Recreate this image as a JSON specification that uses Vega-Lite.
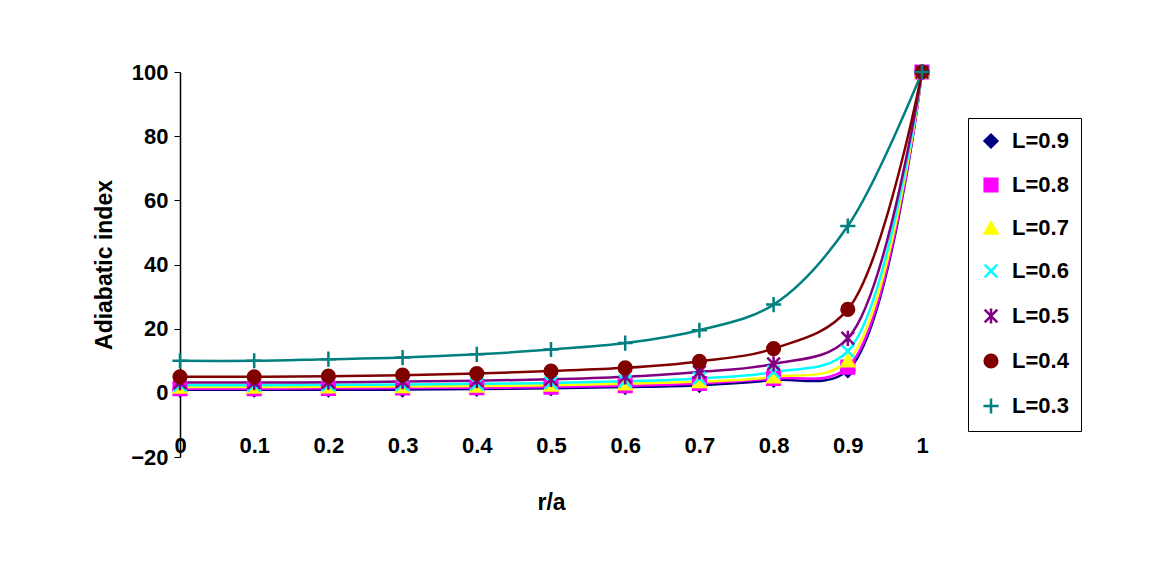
{
"$schema":"https://vega.github.io/schema/vega-lite/v6.json",
"width":742,"height":385,
"autosize":{"type":"none"},
"padding":{"left":180,"top":72,"right":229,"bottom":120},
"background":"white",
"config":{"view":{"stroke":null},"font":"Liberation Sans",
"axis":{"labelFont":"Liberation Sans","labelFontWeight":"bold","labelFontSize":22,"labelColor":"black","titleFont":"Liberation Sans","titleFontWeight":"bold","titleFontSize":23,"titleColor":"black","grid":false,"domainColor":"black","tickColor":"black","domainWidth":1.5}},
"datasets":{"d":[
{"L":"L=0.9","r":0,"v":1},{"L":"L=0.9","r":0.1,"v":1},{"L":"L=0.9","r":0.2,"v":1},{"L":"L=0.9","r":0.3,"v":1},{"L":"L=0.9","r":0.4,"v":1.2},{"L":"L=0.9","r":0.5,"v":1.4},{"L":"L=0.9","r":0.6,"v":1.8},{"L":"L=0.9","r":0.7,"v":2.4},{"L":"L=0.9","r":0.8,"v":4},{"L":"L=0.9","r":0.9,"v":7},{"L":"L=0.9","r":1,"v":100},
{"L":"L=0.8","r":0,"v":1.3},{"L":"L=0.8","r":0.1,"v":1.3},{"L":"L=0.8","r":0.2,"v":1.4},{"L":"L=0.8","r":0.3,"v":1.5},{"L":"L=0.8","r":0.4,"v":1.6},{"L":"L=0.8","r":0.5,"v":1.8},{"L":"L=0.8","r":0.6,"v":2.2},{"L":"L=0.8","r":0.7,"v":2.9},{"L":"L=0.8","r":0.8,"v":4.5},{"L":"L=0.8","r":0.9,"v":8},{"L":"L=0.8","r":1,"v":100},
{"L":"L=0.7","r":0,"v":1.8},{"L":"L=0.7","r":0.1,"v":1.8},{"L":"L=0.7","r":0.2,"v":1.9},{"L":"L=0.7","r":0.3,"v":2},{"L":"L=0.7","r":0.4,"v":2.1},{"L":"L=0.7","r":0.5,"v":2.4},{"L":"L=0.7","r":0.6,"v":2.8},{"L":"L=0.7","r":0.7,"v":3.5},{"L":"L=0.7","r":0.8,"v":5},{"L":"L=0.7","r":0.9,"v":10},{"L":"L=0.7","r":1,"v":100},
{"L":"L=0.6","r":0,"v":2.4},{"L":"L=0.6","r":0.1,"v":2.4},{"L":"L=0.6","r":0.2,"v":2.5},{"L":"L=0.6","r":0.3,"v":2.6},{"L":"L=0.6","r":0.4,"v":2.8},{"L":"L=0.6","r":0.5,"v":3.1},{"L":"L=0.6","r":0.6,"v":3.6},{"L":"L=0.6","r":0.7,"v":4.5},{"L":"L=0.6","r":0.8,"v":6.5},{"L":"L=0.6","r":0.9,"v":13},{"L":"L=0.6","r":1,"v":100},
{"L":"L=0.5","r":0,"v":3.2},{"L":"L=0.5","r":0.1,"v":3.2},{"L":"L=0.5","r":0.2,"v":3.3},{"L":"L=0.5","r":0.3,"v":3.5},{"L":"L=0.5","r":0.4,"v":3.8},{"L":"L=0.5","r":0.5,"v":4.2},{"L":"L=0.5","r":0.6,"v":5},{"L":"L=0.5","r":0.7,"v":6.5},{"L":"L=0.5","r":0.8,"v":9},{"L":"L=0.5","r":0.9,"v":17},{"L":"L=0.5","r":1,"v":100},
{"L":"L=0.4","r":0,"v":5},{"L":"L=0.4","r":0.1,"v":5},{"L":"L=0.4","r":0.2,"v":5.2},{"L":"L=0.4","r":0.3,"v":5.5},{"L":"L=0.4","r":0.4,"v":6},{"L":"L=0.4","r":0.5,"v":6.8},{"L":"L=0.4","r":0.6,"v":7.8},{"L":"L=0.4","r":0.7,"v":9.8},{"L":"L=0.4","r":0.8,"v":13.8},{"L":"L=0.4","r":0.9,"v":26},{"L":"L=0.4","r":1,"v":100},
{"L":"L=0.3","r":0,"v":10},{"L":"L=0.3","r":0.1,"v":10},{"L":"L=0.3","r":0.2,"v":10.5},{"L":"L=0.3","r":0.3,"v":11},{"L":"L=0.3","r":0.4,"v":12},{"L":"L=0.3","r":0.5,"v":13.5},{"L":"L=0.3","r":0.6,"v":15.5},{"L":"L=0.3","r":0.7,"v":19.5},{"L":"L=0.3","r":0.8,"v":27.5},{"L":"L=0.3","r":0.9,"v":52},{"L":"L=0.3","r":1,"v":100}
]},
"data":{"name":"d"},
"encoding":{
"x":{"field":"r","type":"quantitative","scale":{"domain":[0,1]},"title":"r/a","axis":{"values":[0,0.1,0.2,0.3,0.4,0.5,0.6,0.7,0.8,0.9,1],"format":"~g","domain":false,"ticks":false,"labelPadding":-22,"titlePadding":34,"labelFlush":false}},
"y":{"field":"v","type":"quantitative","scale":{"domain":[-20,100]},"title":"Adiabatic index","axis":{"values":[-20,0,20,40,60,80,100],"tickSize":6,"titlePadding":14,"labelPadding":6}}
},
"layer":[
{"mark":{"type":"rule","color":"black","strokeWidth":1.5},"data":{"values":[{"a":0}]},"encoding":{"y":{"datum":0},"x":null}},
{"mark":{"type":"tick","orient":"vertical","color":"black","size":12,"yOffset":6},"data":{"values":[{"r":0},{"r":0.1},{"r":0.2},{"r":0.3},{"r":0.4},{"r":0.5},{"r":0.6},{"r":0.7},{"r":0.8},{"r":0.9},{"r":1}]},"encoding":{"x":{"field":"r","type":"quantitative"},"y":{"datum":0}}},
{"mark":{"type":"line","interpolate":"catmull-rom","strokeWidth":2.5},"encoding":{"color":{"field":"L","type":"nominal","title":null,"scale":{"domain":["L=0.9","L=0.8","L=0.7","L=0.6","L=0.5","L=0.4","L=0.3"],"range":["#000080","#FF00FF","#FFFF00","#00FFFF","#800080","#800000","#008080"]}}}},
{"mark":{"type":"point","filled":true,"size":160,"opacity":1,"strokeWidth":2.5},"encoding":{
"color":{"field":"L","type":"nominal","title":null},
"stroke":{"field":"L","type":"nominal","title":null,"scale":{"domain":["L=0.9","L=0.8","L=0.7","L=0.6","L=0.5","L=0.4","L=0.3"],"range":["#000080","#FF00FF","#FFFF00","#00FFFF","#800080","#800000","#008080"]}},
"shape":{"field":"L","type":"nominal","title":null,"scale":{"domain":["L=0.9","L=0.8","L=0.7","L=0.6","L=0.5","L=0.4","L=0.3"],"range":["diamond","square","triangle-up","M-1,-1L1,1M-1,1L1,-1","M-1,-1L1,1M-1,1L1,-1M0,-1.2L0,1.2","circle","M-1.2,0L1.2,0M0,-1.2L0,1.2"]},
"legend":{"orient":"none","legendX":788,"legendY":46,"strokeColor":"black","padding":12,"rowPadding":20,"labelFont":"Liberation Sans","labelFontWeight":"bold","labelFontSize":22,"labelColor":"black","symbolSize":160,"symbolStrokeWidth":2.5,"labelOffset":10}}
}}
]
}
